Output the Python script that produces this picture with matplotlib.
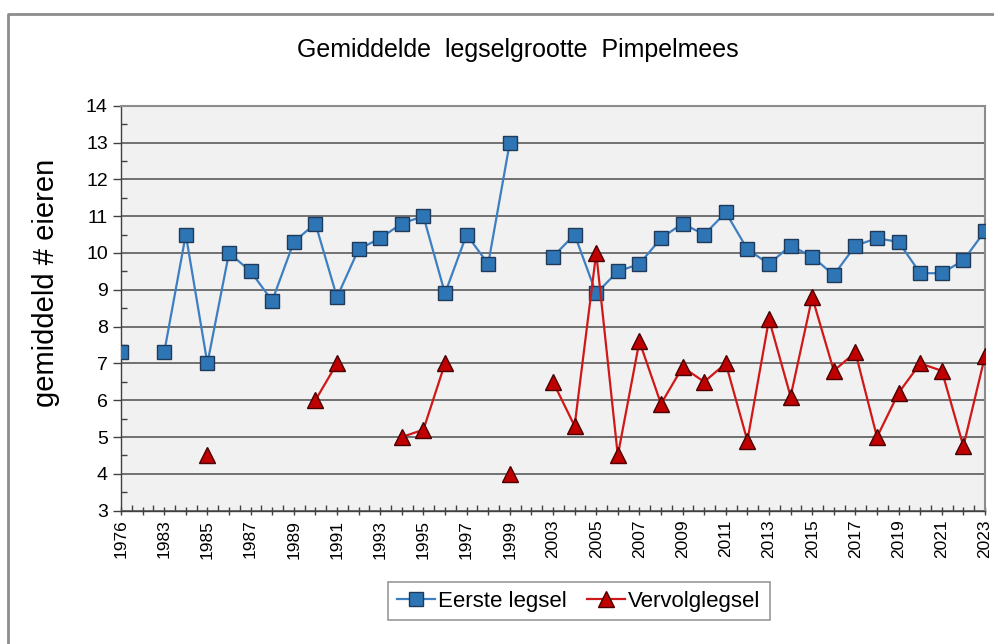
import numpy as np
import matplotlib.pyplot as plt
from matplotlib.lines import Line2D

plt.rcParams['font.family'] = ['Liberation Sans', 'DejaVu Sans']

# categories (two unlabeled gaps in the series)
jaren = ["1976", ""] + [str(j) for j in range(1983, 2000)] + [""] + [str(j) for j in range(2003, 2024)]

nan = np.nan
eerste = [7.3, nan,
          7.3, 10.5, 7.0, 10.0, 9.5, 8.7, 10.3, 10.8, 8.8, 10.1, 10.4, 10.8, 11.0, 8.9, 10.5, 9.7, 13.0,
          nan,
          9.9, 10.5, 8.9, 9.5, 9.7, 10.4, 10.8, 10.5, 11.1, 10.1, 9.7, 10.2, 9.9, 9.4, 10.2, 10.4, 10.3,
          9.45, 9.45, 9.8, 10.6]
vervolg = [nan, nan,
           nan, nan, 4.5, nan, nan, nan, nan, 6.0, 7.0, nan, nan, 5.0, 5.2, 7.0, nan, nan, 4.0,
           nan,
           6.5, 5.3, 10.0, 4.5, 7.6, 5.9, 6.9, 6.5, 7.0, 4.9, 8.2, 6.1, 8.8, 6.8, 7.3, 5.0, 6.2,
           7.0, 6.8, 4.75, 7.2]

x = np.arange(len(jaren))

fig = plt.figure(figsize=(9.95, 6.44), dpi=100)
ax = fig.add_axes([121/995, 1 - 510.7/644, 864/995, 405/644])
ax.set_facecolor('#f1f1f1')

ax.plot(x, eerste, color='#3d7fc1', lw=1.6, marker='s', markersize=10,
        markerfacecolor='#2e75b6', markeredgecolor='#1f3a5a', markeredgewidth=1,
        label='Eerste legsel', zorder=3)
ax.plot(x, vervolg, color='#d01818', lw=1.6, marker='^', markersize=11,
        markerfacecolor='#c00000', markeredgecolor='#4a0000', markeredgewidth=1,
        label='Vervolglegsel', zorder=3)

ax.set_xlim(0, len(jaren) - 1)
ax.set_ylim(3, 14)
ax.set_yticks(range(3, 15))
ax.set_yticks(np.arange(3.5, 14, 1), minor=True)
ax.set_xticks(x)
ax.set_xticklabels([j if i % 2 == 0 else '' for i, j in enumerate(jaren)], rotation=90, fontsize=12.5)
ax.set_xticks(np.arange(0.5, len(jaren) - 1, 1), minor=True)
ax.tick_params(axis='y', labelsize=14, length=6, width=1, color='#404040')
ax.tick_params(axis='y', which='minor', direction='in', length=4, width=1, color='#404040')
ax.tick_params(axis='x', which='major', length=6, width=1, color='#404040', direction='inout')
ax.tick_params(axis='x', which='minor', direction='in', length=4, width=1, color='#404040')

ax.grid(axis='y', which='major', color='#4d4d4d', lw=1.1)
ax.set_axisbelow(True)
for kant in ['top', 'right']:
    ax.spines[kant].set_color('#8c8c8c')
    ax.spines[kant].set_linewidth(1.5)
for kant in ['left', 'bottom']:
    ax.spines[kant].set_color('#404040')
    ax.spines[kant].set_linewidth(1)

fig.text(518/995, 1 - 50/644, 'Gemiddelde  legselgrootte  Pimpelmees', fontsize=18,
         ha='center', va='center')
fig.text(46/995, 1 - 283/644, 'gemiddeld # eieren', fontsize=21, rotation=90,
         ha='center', va='center')

leg = ax.legend(loc='center', bbox_to_anchor=(579/995, 1 - 601/644), bbox_transform=fig.transFigure,
                ncol=2, fontsize=16, frameon=True, fancybox=False, handlelength=1.7,
                handletextpad=0.15, columnspacing=0.9, borderpad=0.4)
leg.get_frame().set_edgecolor('#7f7f7f')
leg.get_frame().set_linewidth(1.2)

# outer chart frame
fig.add_artist(Line2D([8/995, 8/995, 1], [0, 1 - 14/644, 1 - 14/644],
                      transform=fig.transFigure, color='#8c8c8c', lw=2))

fig.savefig('out.png', dpi=100)
